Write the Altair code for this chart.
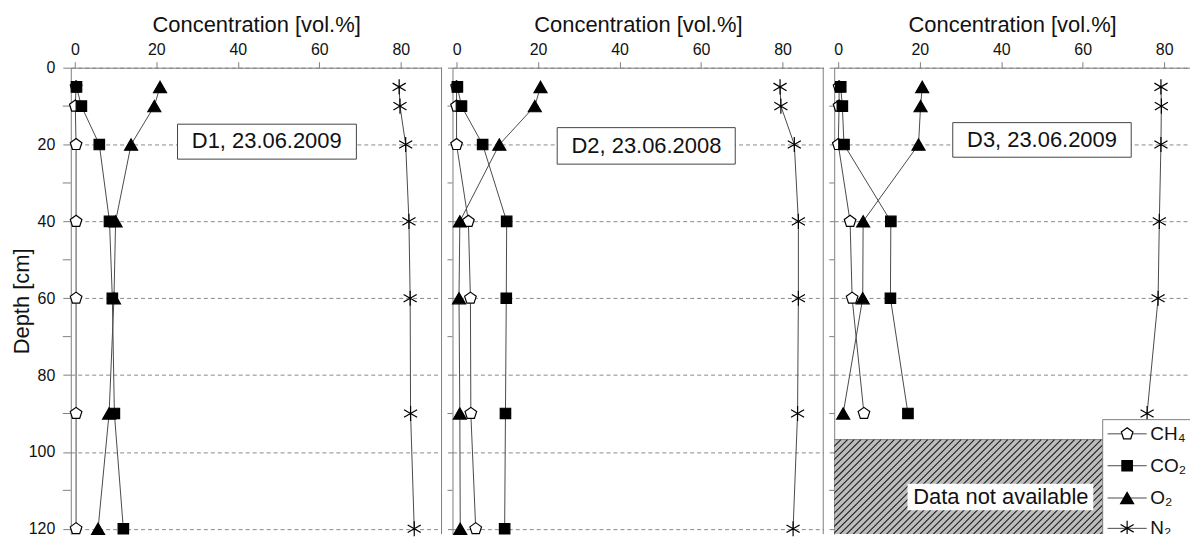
import altair as alt
import numpy as np
import pandas as pd

# ---------------- data ----------------
gases = ["CH4", "CO2", "O2", "N2"]
gas_labels = ["CH₄", "CO₂", "O₂", "N₂"]

depth = [5, 10, 20, 40, 60, 90, 120]
depth_d3 = [5, 10, 20, 40, 60, 90]

d1_ch4 = [0.3, 0.1, 0.3, 0.3, 0.3, 0.3, 0.3]
d1_co2 = [0.4, 1.6, 6.0, 8.5, 9.2, 9.7, 11.9]
d1_o2 = [20.9, 19.5, 13.8, 10.0, 9.6, 8.4, 5.7]
d1_n2 = [79.6, 79.8, 81.2, 82.0, 82.3, 82.4, 83.3]

d2_ch4 = [0.0, 0.0, 0.0, 2.9, 3.4, 3.5, 4.7]
d2_co2 = [0.2, 1.2, 6.4, 12.3, 12.2, 12.0, 11.8]
d2_o2 = [20.6, 19.2, 10.5, 0.8, 0.6, 0.8, 0.9]
d2_n2 = [79.4, 79.6, 82.9, 83.9, 83.9, 83.7, 82.6]

d3_ch4 = [0.2, 0.2, 0.0, 2.9, 3.4, 6.3]
d3_co2 = [0.6, 1.0, 1.4, 12.9, 12.8, 17.1]
d3_o2 = [20.6, 20.2, 19.7, 6.1, 6.0, 1.2]
d3_n2 = [79.2, 79.3, 79.2, 78.8, 78.5, 75.8]

panel_titles = ["D1, 23.06.2009", "D2, 23.06.2008", "D3, 23.06.2009"]

major_ticks = [0, 20, 40, 60, 80, 100, 120]
minor_ticks = [10, 30, 50, 70, 90, 110]
x_ticks = [0, 20, 40, 60, 80]

# ---------------- layout constants ----------------
FONT = "Liberation Sans"
H = 468
Y_MAX = 121.4
W12 = 372
X_MAX12 = 90
W3 = 357
X_MAX3 = -1 + W3 * 91 / W12
AX_GRAY = "#808080"

PENTAGON = "M0,-1 L0.951,-0.309 L0.588,0.809 L-0.588,0.809 L-0.951,-0.309 Z"
ASTERISK = "M0,-1 L0,1 M-0.866,-0.5 L0.866,0.5 M-0.866,0.5 L0.866,-0.5"

shape_scale = alt.Scale(domain=gases, range=[PENTAGON, "square", "triangle-up", ASTERISK])
fill_scale = alt.Scale(domain=gases, range=["white", "black", "black", "transparent"])
size_scale = alt.Scale(type="ordinal", domain=gases, range=[150, 110, 170, 230])


def frame(series, depths):
    rows = []
    for g, vals in zip(gases, series):
        for d, v in zip(depths, vals):
            rows.append({"gas": g, "conc": v, "depth": d})
    return pd.DataFrame(rows)


def point_layer(data, X, Y, clip=False):
    return alt.Chart(data).mark_point(
        filled=True, stroke="black", strokeWidth=1.2, opacity=1, clip=clip
    ).encode(
        x=X, y=Y,
        shape=alt.Shape("gas:N", scale=shape_scale, legend=None),
        fill=alt.Fill("gas:N", scale=fill_scale, legend=None),
        size=alt.Size("gas:N", scale=size_scale, legend=None),
    )


def make_panel(df, label, label_box, label_pos, width, xmax, first, extra_before=None, extra_after=None):
    xaxis = alt.Axis(
        orient="top", title="Concentration [vol.%]", values=x_ticks, format="d",
        grid=False, tickSize=6, labelPadding=4, titlePadding=5,
    )
    if first:
        yaxis = alt.Axis(
            values=major_ticks, grid=True, gridDash=[4, 3], gridColor="#8a8a8a",
            tickSize=8, labelPadding=8, title="Depth [cm]",
            titleX=-37, titleBaseline="bottom", titleAngle=270,
        )
    else:
        yaxis = alt.Axis(
            values=major_ticks, grid=True, gridDash=[4, 3], gridColor="#8a8a8a",
            tickSize=5, labels=False, title=None,
        )
    X = alt.X("conc:Q", scale=alt.Scale(domain=[-1, xmax], nice=False, zero=False), axis=xaxis)
    Y = alt.Y("depth:Q", scale=alt.Scale(domain=[0, Y_MAX], nice=False, zero=False, reverse=True), axis=yaxis)

    layers = []
    tick_len = 8 if first else 5
    minor = alt.Chart(pd.DataFrame({"depth": minor_ticks})).mark_rule(
        color=AX_GRAY, strokeWidth=1
    ).encode(x=alt.value(-tick_len), x2=alt.value(0), y=Y)
    layers.append(minor)

    if extra_before is not None:
        layers.extend(extra_before(X, Y))

    lines = alt.Chart(df).mark_line(color="#4a4a4a", strokeWidth=1).encode(
        x=X, y=Y, detail="gas:N", order=alt.Order("depth:Q")
    )
    layers += [lines, point_layer(df, X, Y)]

    if xmax >= 90:
        edge = alt.Chart(pd.DataFrame({"conc": [xmax]})).mark_rule(color=AX_GRAY, strokeWidth=1).encode(
            x=X, y=alt.value(0), y2=alt.value(H)
        )
        layers.append(edge)

    box = alt.Chart(pd.DataFrame({
        "conc": [label_box[0]], "conc2": [label_box[1]],
        "depth": [label_box[2]], "depth2": [label_box[3]],
    })).mark_rect(fill="white", stroke="#444444", strokeWidth=1).encode(
        x=X, x2="conc2:Q", y=Y, y2="depth2:Q"
    )
    txt = alt.Chart(pd.DataFrame({"conc": [label_pos[0]], "depth": [label_pos[1]], "t": [label]})).mark_text(
        fontSize=22, font=FONT, color="#111111", align="center", baseline="middle"
    ).encode(x=X, y=Y, text="t:N")
    layers += [box, txt]

    if extra_after is not None:
        layers.extend(extra_after(X, Y))

    return alt.layer(*layers).properties(width=width, height=H)


# ---------------- panel 3 extras ----------------
HATCH_TOP = 96.8


def hatch_layers(X, Y):
    rect = alt.Chart(pd.DataFrame({
        "conc": [-1], "conc2": [X_MAX3 + 5], "depth": [HATCH_TOP], "depth2": [Y_MAX + 5]
    })).mark_rect(fill="#bdbdbd", stroke=AX_GRAY, strokeWidth=1, clip=True).encode(
        x=X, x2="conc2:Q", y=Y, y2="depth2:Q"
    )
    kx = W3 / (X_MAX3 + 1)
    ky = H / Y_MAX
    span = (Y_MAX - HATCH_TOP) * ky / kx
    starts = np.arange(-1.0, X_MAX3 + span + 2, 6.7 / kx)
    hatch = pd.DataFrame({
        "conc": starts, "depth": HATCH_TOP,
        "conc2": starts - span, "depth2": Y_MAX,
    })
    lines = alt.Chart(hatch).mark_rule(color="#1e1e1e", strokeWidth=1.1, clip=True).encode(
        x=X, x2="conc2:Q", y=Y, y2="depth2:Q"
    )
    return [rect, lines]


def legend_layers(X, Y):
    out = []
    na_box = alt.Chart(pd.DataFrame({
        "conc": [17.0], "conc2": [62.6], "depth": [108.3], "depth2": [115.2]
    })).mark_rect(fill="white").encode(x=X, x2="conc2:Q", y=Y, y2="depth2:Q")
    na_txt = alt.Chart(pd.DataFrame({"conc": [39.9], "depth": [111.8], "t": ["Data not available"]})).mark_text(
        fontSize=22, font=FONT, color="#111111", align="center", baseline="middle"
    ).encode(x=X, y=Y, text="t:N")
    out += [na_box, na_txt]

    lbox = alt.Chart(pd.DataFrame({
        "conc": [64.9], "conc2": [X_MAX3 + 5], "depth": [91.6], "depth2": [Y_MAX + 5]
    })).mark_rect(fill="white", stroke=AX_GRAY, strokeWidth=1, clip=True).encode(
        x=X, x2="conc2:Q", y=Y, y2="depth2:Q"
    )
    leg_depth = [95.3, 103.6, 112.0, 119.9]
    leg = pd.DataFrame({
        "gas": gases, "label": gas_labels, "depth": leg_depth,
        "conc": [66.1] * 4, "conc2": [75.7] * 4,
    })
    lline = alt.Chart(leg).mark_rule(color="#4a4a4a", strokeWidth=1, clip=True).encode(
        x=X, x2="conc2:Q", y=Y
    )
    lpts = point_layer(leg.assign(conc=70.9), X, Y, clip=True)
    ltxt = alt.Chart(leg.assign(conc=76.6)).mark_text(
        fontSize=19, font=FONT, color="#111111", align="left", baseline="middle", clip=True
    ).encode(x=X, y=Y, text="label:N")
    out += [lbox, lline, lpts, ltxt]
    return out


p1 = make_panel(frame([d1_ch4, d1_co2, d1_o2, d1_n2], depth), panel_titles[0],
                (25.2, 69.1, 14.7, 23.8), (47.1, 19.2), W12, X_MAX12, True)
p2 = make_panel(frame([d2_ch4, d2_co2, d2_o2, d2_n2], depth), panel_titles[1],
                (24.7, 68.4, 15.6, 25.1), (46.6, 20.3), W12, X_MAX12, False)
p3 = make_panel(frame([d3_ch4, d3_co2, d3_o2, d3_n2], depth_d3), panel_titles[2],
                (28.1, 71.9, 14.3, 23.3), (50.0, 18.8), W3, X_MAX3, False,
                extra_before=hatch_layers, extra_after=legend_layers)

chart = alt.hconcat(p1, p2, p3, spacing=4).properties(
    padding={"left": 3, "top": 5, "right": 0, "bottom": 0}
).configure_view(strokeWidth=0).configure_axis(
    labelFont=FONT, labelFontSize=16, labelColor="#111111",
    titleFont=FONT, titleFontSize=22, titleFontWeight="normal", titleColor="#111111",
    domainColor=AX_GRAY, tickColor=AX_GRAY,
).configure_text(font=FONT)

chart.save("out.html", embed_options={"renderer": "svg", "actions": False})
